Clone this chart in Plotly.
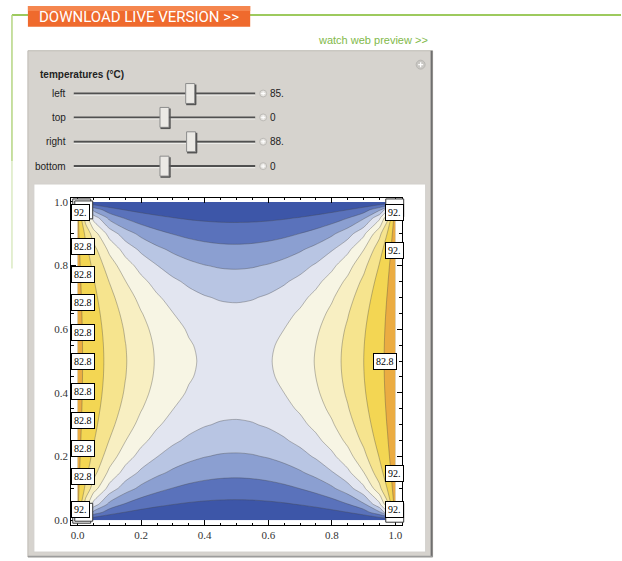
import plotly.graph_objects as go

W, H = 622, 561

# ---------------------------------------------------------------------------
# Steady-state temperature on the unit square (edges: left 85, top 0,
# right 88, bottom 0), sampled on a grid; one row per y value.
# ---------------------------------------------------------------------------
x_nodes = [0, 0.025, 0.05, 0.1, 0.15, 0.2, 0.25, 0.3, 0.35, 0.4, 0.45, 0.5,
           0.55, 0.6, 0.65, 0.7, 0.75, 0.8, 0.85, 0.9, 0.95, 0.975, 1]
y_nodes = [0, 0.025, 0.05, 0.1, 0.15, 0.2, 0.25, 0.3, 0.35, 0.4, 0.45, 0.5,
           0.55, 0.6, 0.65, 0.7, 0.75, 0.8, 0.85, 0.9, 0.95, 0.975, 1]

temperature = [
    [42.5, 0, 0, 0, 0, 0, 0, 0, 0, 0, 0, 0, 0, 0, 0, 0, 0, 0, 0, 0, 0, 0, 44.0],
    [85, 42.50, 25.09, 13.27, 8.97, 6.80, 5.51, 4.70, 4.17, 3.84, 3.66, 3.61, 3.68, 3.89, 4.25, 4.81, 5.66, 7.00, 9.26, 13.72, 25.97, 44.00, 88],
    [85, 59.91, 42.51, 25.12, 17.48, 13.39, 10.92, 9.33, 8.29, 7.64, 7.28, 7.18, 7.32, 7.73, 8.44, 9.54, 11.21, 13.79, 18.04, 25.97, 43.99, 62.02, 88],
    [85, 71.74, 59.92, 42.53, 31.92, 25.31, 21.02, 18.14, 16.21, 14.98, 14.30, 14.12, 14.39, 15.16, 16.50, 18.55, 21.58, 26.06, 32.95, 43.97, 62.00, 74.26, 88],
    [85, 76.05, 67.58, 53.18, 42.58, 35.06, 29.76, 26.03, 23.45, 21.78, 20.85, 20.59, 20.98, 22.04, 23.87, 26.61, 30.54, 36.09, 43.93, 54.96, 69.91, 78.71, 88],
    [85, 78.23, 71.68, 59.82, 50.14, 42.63, 36.97, 32.79, 29.82, 27.84, 26.73, 26.43, 26.90, 28.17, 30.34, 33.51, 37.92, 43.87, 51.72, 61.80, 74.14, 80.96, 88],
    [85, 79.52, 74.17, 64.14, 55.49, 48.36, 42.70, 38.37, 35.19, 33.04, 31.83, 31.49, 32.02, 33.43, 35.79, 39.20, 43.79, 49.75, 57.22, 66.26, 76.71, 82.29, 88],
    [85, 80.35, 75.77, 67.06, 59.27, 52.60, 47.12, 42.79, 39.55, 37.32, 36.05, 35.70, 36.26, 37.75, 40.22, 43.71, 48.31, 54.09, 61.10, 69.25, 78.36, 83.14, 88],
    [85, 80.89, 76.83, 69.02, 61.90, 55.64, 50.38, 46.13, 42.89, 40.64, 39.35, 38.99, 39.58, 41.11, 43.61, 47.11, 51.63, 57.20, 63.79, 71.26, 79.45, 83.69, 88],
    [85, 81.23, 77.51, 70.28, 63.63, 57.69, 52.61, 48.46, 45.25, 43.00, 41.71, 41.36, 41.95, 43.49, 46.00, 49.47, 53.91, 59.30, 65.56, 72.56, 80.14, 84.05, 88],
    [85, 81.42, 77.88, 71.00, 64.61, 58.87, 53.91, 49.83, 46.66, 44.42, 43.13, 42.78, 43.38, 44.92, 47.42, 50.87, 55.24, 60.50, 66.57, 73.29, 80.53, 84.24, 88],
    [85, 81.48, 78.01, 71.23, 64.93, 59.25, 54.34, 50.28, 47.12, 44.89, 43.60, 43.25, 43.85, 45.39, 47.89, 51.33, 55.68, 60.89, 66.90, 73.53, 80.65, 84.31, 88],
    [85, 81.42, 77.88, 71.00, 64.61, 58.87, 53.91, 49.83, 46.66, 44.42, 43.13, 42.78, 43.38, 44.92, 47.42, 50.87, 55.24, 60.50, 66.57, 73.29, 80.53, 84.24, 88],
    [85, 81.23, 77.51, 70.28, 63.63, 57.69, 52.61, 48.46, 45.25, 43.00, 41.71, 41.36, 41.95, 43.49, 46.00, 49.47, 53.91, 59.30, 65.56, 72.56, 80.14, 84.05, 88],
    [85, 80.89, 76.83, 69.02, 61.90, 55.64, 50.38, 46.13, 42.89, 40.64, 39.35, 38.99, 39.58, 41.11, 43.61, 47.11, 51.63, 57.20, 63.79, 71.26, 79.45, 83.69, 88],
    [85, 80.35, 75.77, 67.06, 59.27, 52.60, 47.12, 42.79, 39.55, 37.32, 36.05, 35.70, 36.26, 37.75, 40.22, 43.71, 48.31, 54.09, 61.10, 69.25, 78.36, 83.14, 88],
    [85, 79.52, 74.17, 64.14, 55.49, 48.36, 42.70, 38.37, 35.19, 33.04, 31.83, 31.49, 32.02, 33.43, 35.79, 39.20, 43.79, 49.75, 57.22, 66.26, 76.71, 82.29, 88],
    [85, 78.23, 71.68, 59.82, 50.14, 42.63, 36.97, 32.79, 29.82, 27.84, 26.73, 26.43, 26.90, 28.17, 30.34, 33.51, 37.92, 43.87, 51.72, 61.80, 74.14, 80.96, 88],
    [85, 76.05, 67.58, 53.18, 42.58, 35.06, 29.76, 26.03, 23.45, 21.78, 20.85, 20.59, 20.98, 22.04, 23.87, 26.61, 30.54, 36.09, 43.93, 54.96, 69.91, 78.71, 88],
    [85, 71.74, 59.92, 42.53, 31.92, 25.31, 21.02, 18.14, 16.21, 14.98, 14.30, 14.12, 14.39, 15.16, 16.50, 18.55, 21.58, 26.06, 32.95, 43.97, 62.00, 74.26, 88],
    [85, 59.91, 42.51, 25.12, 17.48, 13.39, 10.92, 9.33, 8.29, 7.64, 7.28, 7.18, 7.32, 7.73, 8.44, 9.54, 11.21, 13.79, 18.04, 25.97, 43.99, 62.02, 88],
    [85, 42.50, 25.09, 13.27, 8.97, 6.80, 5.51, 4.70, 4.17, 3.84, 3.66, 3.61, 3.68, 3.89, 4.25, 4.81, 5.66, 7.00, 9.26, 13.72, 25.97, 44.00, 88],
    [42.5, 0, 0, 0, 0, 0, 0, 0, 0, 0, 0, 0, 0, 0, 0, 0, 0, 0, 0, 0, 0, 0, 44.0],
]

contour_levels = [9.2, 18.4, 27.6, 36.8, 46.0, 55.2, 64.4, 73.6, 82.8, 92.0]

# one colour per band: below the first level ... above the last level
band_colors = [
    "#3d56a8", "#5a72bb", "#8b9fd1", "#b8c5e3", "#e2e5f0",
    "#f7f5e4", "#f8efc2", "#f6e48e", "#f3d653", "#ebac42", "#de8a33",
]

# control panel
slider_names = ["left", "top", "right", "bottom"]
slider_values = [85, 0, 88, 0]
slider_texts = ["85.", "0", "88.", "0"]
slider_min, slider_max = -300, 300

tick_values = [0.0, 0.2, 0.4, 0.6, 0.8, 1.0]


def fx(p):
    return p / W


def fy(p):
    return 1 - p / H


def level_text(v):
    return f"{v:g}." if float(v).is_integer() else f"{v:g}"


# stepwise colour scale: band k sits at fraction k/10
n_bands = len(band_colors)
colorscale = []
for k, c in enumerate(band_colors):
    lo = max(0.0, (k - 0.5) / (n_bands - 1))
    hi = min(1.0, (k + 0.5) / (n_bands - 1))
    colorscale.append([lo, c])
    colorscale.append([hi, c])

step = round(contour_levels[1] - contour_levels[0], 6)

fig = go.Figure(
    go.Contour(
        x=x_nodes,
        y=y_nodes,
        z=temperature,
        autocontour=False,
        contours=dict(start=contour_levels[0], end=contour_levels[-1], size=step, coloring="fill"),
        colorscale=colorscale,
        showscale=False,
        line=dict(color="rgba(70,70,70,0.45)", width=0.8, smoothing=0.9),
        hoverinfo="skip",
    )
)

shapes = []
annotations = []


def rect(x0, y0, x1, y1, fill, line=None, lw=1, layer="below"):
    shapes.append(dict(type="rect", xref="paper", yref="paper",
                       x0=fx(x0), x1=fx(x1), y0=fy(y1), y1=fy(y0),
                       fillcolor=fill, layer=layer,
                       line=dict(color=line or fill, width=lw if line else 0)))


def seg(x0, y0, x1, y1, color, width=1, layer="below"):
    shapes.append(dict(type="line", xref="paper", yref="paper",
                       x0=fx(x0), x1=fx(x1), y0=fy(y0), y1=fy(y1),
                       layer=layer, line=dict(color=color, width=width)))


def circle(cx, cy, r, fill, line):
    shapes.append(dict(type="circle", xref="paper", yref="paper",
                       x0=fx(cx - r), x1=fx(cx + r), y0=fy(cy + r), y1=fy(cy - r),
                       fillcolor=fill, layer="below", line=dict(color=line, width=1)))


def text(x, y, s, size=10, color="#222", anchor="left", family="Liberation Sans"):
    annotations.append(dict(xref="paper", yref="paper", x=fx(x), y=fy(y), text=s,
                            showarrow=False, xanchor=anchor, yanchor="middle",
                            font=dict(family=family, size=size, color=color)))


# page header
seg(11, 13, 622, 13, "#9dca5e", 2)
seg(11, 13, 11, 160, "#b5d582", 1.5)
seg(11, 160, 11, 268, "#dbeac3", 1.5)
rect(27, 4, 250, 25, "#ef6a2d")
rect(27, 4, 250, 9, "#f5864f")
text(36, 15, "DOWNLOAD LIVE VERSION &gt;&gt;", size=15, color="white", family="Roboto")
text(430, 38, "watch web preview &gt;&gt;", size=11, color="#82b94a", anchor="right")

# control panel
rect(27, 49, 433, 558, "#d6d3ce", "#bdbab4", 1)
seg(432, 49, 432, 558, "#6f6f6f", 2)
seg(27, 557.5, 433, 557.5, "#9c9c9c", 1.5)
rect(33, 183, 426, 553, "#ffffff", "#d2d0cc", 1)
circle(421, 63, 4.5, "#c9c7c3", "#b9b7b3")
seg(418.5, 63, 423.5, 63, "white", 1.2)
seg(421, 60.5, 421, 65.5, "white", 1.2)

text(37, 73, "<b>temperatures (°C)</b>", size=10)

track_x0, track_x1 = 73, 255
track_y = [92, 116, 140.5, 165]
for name, val, vtxt, ty in zip(slider_names, slider_values, slider_texts, track_y):
    text(67, ty, name, size=10, anchor="right")
    seg(track_x0, ty, track_x1, ty, "#505050", 2)
    seg(track_x0, ty + 1.6, track_x1, ty + 1.6, "#f2f1ee", 1)
    cx = track_x0 + (val - slider_min) / (slider_max - slider_min) * (track_x1 - track_x0)
    rect(cx - 4.5, ty - 10, cx + 4.5, ty + 10, "#ebe9e5", "#8c8c8c", 1)
    seg(cx + 5.5, ty - 9, cx + 5.5, ty + 11, "#555555", 1.5)
    seg(cx - 4, ty + 11, cx + 6, ty + 11, "#555555", 1.5)
    circle(263, ty, 3.5, "#e3e1dd", "#bdbbb7")
    seg(261, ty, 265, ty, "white", 1)
    seg(263, ty - 2, 263, ty + 2, "white", 1)
    text(268, ty, vtxt, size=10)

# contour labels along the edges
lab_hi = level_text(contour_levels[-1])
lab_lo = level_text(contour_levels[-2])
label_spots = [(0.008, 0.966, lab_hi), (0.008, 0.034, lab_hi)]
label_spots += [(0.017, yy, lab_lo) for yy in
                [0.859, 0.772, 0.684, 0.591, 0.5, 0.403, 0.3125, 0.225, 0.1375]]
label_spots += [(0.997, 0.966, lab_hi), (0.998, 0.847, lab_hi),
                (0.998, 0.147, lab_hi), (0.997, 0.034, lab_hi),
                (0.966, 0.5, lab_lo)]

# stacked outline boxes at the corners
for (bx0, by0, bx1, by1) in [(72, 198, 90, 216), (74, 200, 92, 218),
                             (72, 506, 90, 524), (74, 504, 92, 522),
                             (386, 198, 404, 216), (386, 504, 404, 523)]:
    shapes.append(dict(type="rect", xref="paper", yref="paper",
                       x0=fx(bx0), x1=fx(bx1), y0=fy(by1), y1=fy(by0),
                       fillcolor="white", layer="above",
                       line=dict(color="#333", width=1)))

for lx, ly, lt in label_spots:
    annotations.append(dict(xref="x", yref="y", x=lx, y=ly, text=lt, showarrow=False,
                            bgcolor="white", bordercolor="black", borderwidth=1,
                            borderpad=2, xanchor="center", yanchor="middle",
                            font=dict(family="Liberation Serif", size=10, color="black")))

axis_common = dict(
    showline=True, mirror="ticks", linecolor="black", linewidth=1,
    ticks="inside", ticklen=5, tickwidth=1, tickcolor="black",
    tickmode="array", tickvals=tick_values, ticktext=[f"{t:.1f}" for t in tick_values],
    tickfont=dict(family="Liberation Serif", size=11, color="#333"),
    minor=dict(ticks="inside", ticklen=2.5, tickwidth=1, tickcolor="black",
               tickmode="linear", tick0=0, dtick=0.05),
    showgrid=False, zeroline=False, fixedrange=True,
)

fig.update_layout(
    width=W, height=H,
    margin=dict(l=0, r=0, t=0, b=0),
    paper_bgcolor="white",
    plot_bgcolor="rgba(0,0,0,0)",
    showlegend=False,
    shapes=shapes,
    annotations=annotations,
    xaxis=dict(domain=[fx(70.5), fx(402)], range=[-0.02, 1.02], **axis_common),
    yaxis=dict(domain=[fy(526), fy(197)], range=[-0.0156, 1.0125], **axis_common),
)

fig.write_html("out.html")
